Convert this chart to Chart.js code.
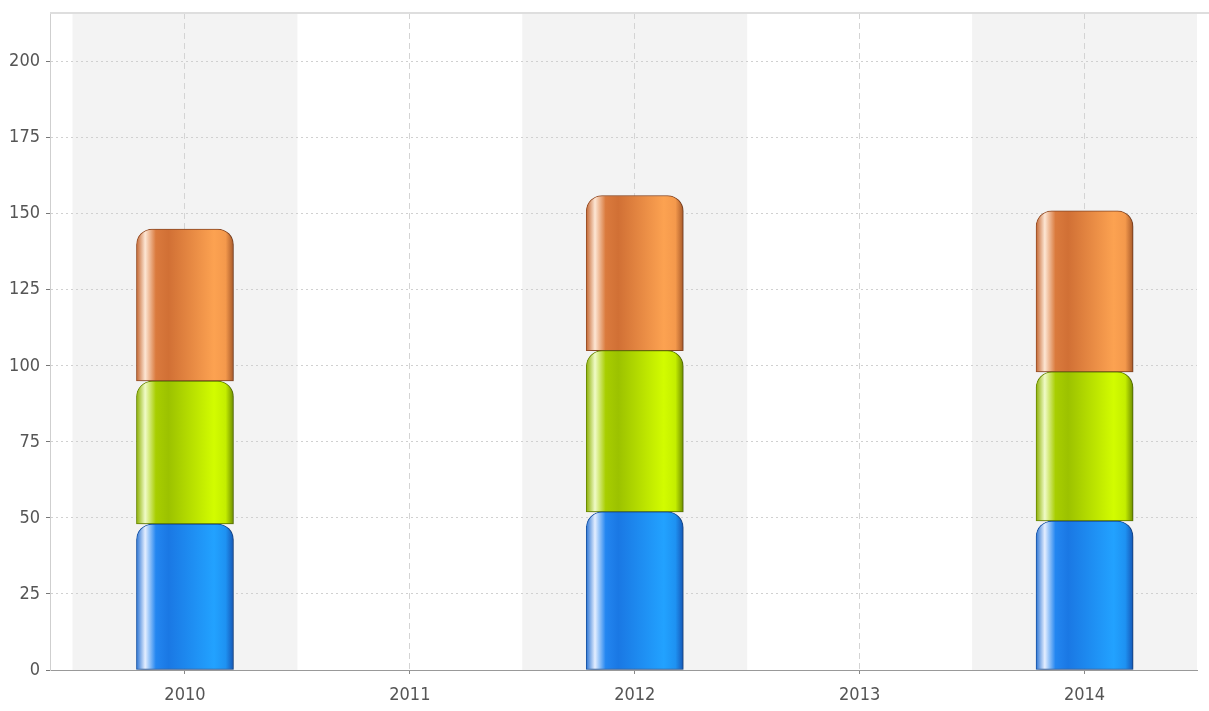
<!DOCTYPE html>
<html>
<head>
<meta charset="utf-8">
<script src="https://cdn.jsdelivr.net/npm/chart.js@4/dist/chart.umd.min.js"></script>
<style>
html,body{margin:0;padding:0;background:#fff;}
#wrap{width:1209px;height:711px;position:relative;}
</style>
</head>
<body>
<div id="wrap"><canvas id="c" width="1209" height="711"></canvas></div>
<script>
const categories = ['2010', '2011', '2012', '2013', '2014'];
const seriesBlue = [48, null, 52, null, 49];
const seriesGreen = [47, null, 53, null, 49];
const seriesOrange = [50, null, 51, null, 53];
const yTicks = [0, 25, 50, 75, 100, 125, 150, 175, 200];

const palettes = {
  blue:   {stops:['#2a74d4','#e4eeff','#2386f0','#1a78e4','#22a2ff','#1e92f2','#1558b8'], border:'#1a56a8'},
  green:  {stops:['#8cb000','#f0fbc8','#a8ce00','#9cc200','#d2fc00','#c4ee00','#6f8f00'], border:'#6a8a00'},
  orange: {stops:['#c4652f','#fde6d4','#da7a3d','#d17035','#fca251','#f4994c','#a95a2a'], border:'#9a5028'}
};
const stopPos = [0, 0.09, 0.2, 0.33, 0.8, 0.92, 1];
const BAR_W = 97;

function gradFor(pal) {
  return function(ctx) {
    const chart = ctx.chart;
    const xs = chart.scales.x;
    if (!xs || ctx.parsed === undefined || ctx.parsed === null) return pal.stops[3];
    const cx = xs.getPixelForValue(ctx.parsed.x);
    if (!isFinite(cx)) return pal.stops[3];
    const g = chart.ctx.createLinearGradient(cx - BAR_W/2, 0, cx + BAR_W/2, 0);
    pal.stops.forEach((c, i) => g.addColorStop(stopPos[i], c));
    return g;
  };
}

function toPts(arr) { return arr.map((v, i) => ({x: i, y: v})); }

const bandsPlugin = {
  id: 'bands',
  beforeDraw(chart) {
    const {ctx, chartArea} = chart;
    const xs = chart.scales.x;
    ctx.save();
    ctx.fillStyle = '#f3f3f3';
    categories.forEach((c, i) => {
      if (i % 2 !== 0) return;
      let l = Math.max(xs.getPixelForValue(i - 0.5), chartArea.left);
      let r = Math.min(xs.getPixelForValue(i + 0.5), chartArea.right);
      ctx.fillRect(l, chartArea.top, r - l, chartArea.bottom - chartArea.top);
    });
    ctx.restore();
  },
  afterDraw(chart) {
    const {ctx, chartArea} = chart;
    ctx.save();
    ctx.strokeStyle = '#dedede';
    ctx.lineWidth = 2;
    ctx.beginPath();
    ctx.moveTo(chartArea.left, chartArea.top);
    ctx.lineTo(chart.width, chartArea.top);
    ctx.stroke();
    ctx.restore();
  },
  beforeDatasetsDraw(chart) {
    const ctx = chart.ctx;
    ctx.save();
    ctx.shadowColor = 'rgba(0,0,0,0.28)';
    ctx.shadowBlur = 4;
    ctx.shadowOffsetX = 3;
    ctx.shadowOffsetY = 1;
  },
  afterDatasetsDraw(chart) {
    chart.ctx.restore();
  }
};

const radius = {topLeft: 16, topRight: 16, bottomLeft: 0, bottomRight: 0};
function ds(label, arr, pal) {
  return {
    label: label,
    data: toPts(arr),
    backgroundColor: gradFor(pal),
    borderColor: pal.border,
    borderWidth: 1,
    borderRadius: radius,
    borderSkipped: false,
    barThickness: BAR_W
  };
}

const FONT = '"DejaVu Sans Condensed", "DejaVu Sans", sans-serif';

new Chart(document.getElementById('c'), {
  type: 'bar',
  data: {
    datasets: [
      ds('A', seriesBlue, palettes.blue),
      ds('B', seriesGreen, palettes.green),
      ds('C', seriesOrange, palettes.orange)
    ]
  },
  options: {
    responsive: false,
    animation: false,
    layout: {padding: {top: 13, right: 12, left: 0, bottom: 0}},
    plugins: {legend: {display: false}, tooltip: {enabled: false}},
    scales: {
      x: {
        type: 'linear',
        stacked: true,
        offset: false,
        min: -0.6,
        max: 4.5,
        afterBuildTicks(axis) { axis.ticks = categories.map((c, i) => ({value: i})); },
        afterFit(axis) { axis.height = 41; axis.paddingLeft = 0; axis.paddingRight = 0; },
        ticks: {
          callback: (v) => categories[v] !== undefined ? categories[v] : '',
          color: '#555',
          font: {family: FONT, size: 18},
          padding: 11,
          maxRotation: 0,
          autoSkip: false
        },
        grid: {color: '#d4d4d4', tickColor: '#888', tickLength: 4, drawOnChartArea: true, offset: false},
        border: {color: '#999', width: 1, dash: [6, 4]}
      },
      y: {
        stacked: true,
        min: 0,
        max: 216,
        afterBuildTicks(axis) { axis.ticks = yTicks.map(v => ({value: v})); },
        afterFit(axis) { axis.width = 50; axis.paddingTop = 0; axis.paddingBottom = 0; },
        ticks: {
          color: '#555',
          font: {family: FONT, size: 18},
          padding: 6
        },
        grid: {color: '#d0d0d0', tickColor: '#777', tickLength: 4},
        border: {color: '#cfcfcf', width: 1, dash: [2, 3]}
      }
    }
  },
  plugins: [bandsPlugin]
});
</script>
</body>
</html>
